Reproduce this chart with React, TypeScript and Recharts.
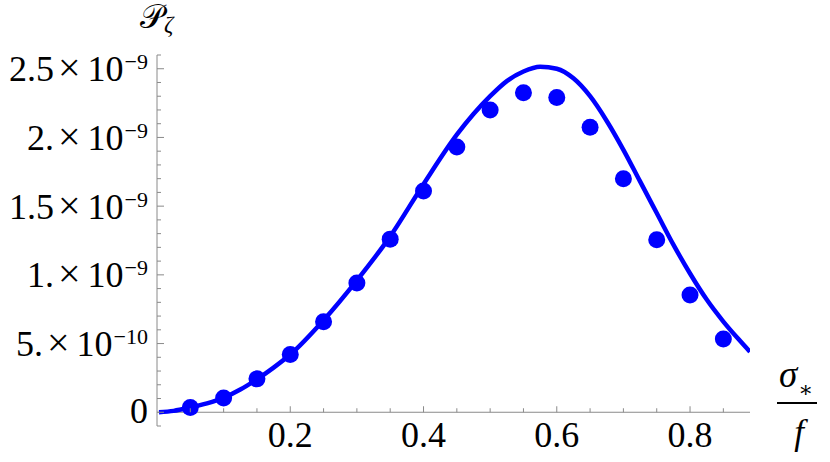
import { ComposedChart, Line, Scatter, XAxis, YAxis, ReferenceLine } from "recharts";

// values in units of 1e-9
const POINT_X = [0.05, 0.1, 0.15, 0.2, 0.25, 0.3, 0.35, 0.4, 0.45, 0.5, 0.55, 0.6, 0.65, 0.7, 0.75, 0.8, 0.85];
const POINT_Y = [0.034, 0.104, 0.243, 0.42, 0.659, 0.94, 1.26, 1.61, 1.93, 2.2, 2.326, 2.29, 2.075, 1.7, 1.255, 0.854, 0.533];

const CURVE_X = [
  0.003, 0.025, 0.05, 0.075, 0.1, 0.125, 0.15, 0.175, 0.2, 0.25, 0.3, 0.35, 0.4, 0.45, 0.475, 0.5,
  0.525, 0.55, 0.575, 0.6, 0.625, 0.65, 0.675, 0.7, 0.725, 0.75, 0.775, 0.8, 0.825, 0.85, 0.875, 0.89,
];
const CURVE_Y = [
  0, 0.01, 0.035, 0.065, 0.105, 0.165, 0.24, 0.325, 0.42, 0.67, 0.96, 1.28, 1.66, 2.02, 2.17, 2.3,
  2.41, 2.48, 2.515, 2.5, 2.43, 2.3, 2.12, 1.91, 1.68, 1.45, 1.22, 1.01, 0.82, 0.66, 0.52, 0.44,
];

const X_TICKS = [0.05, 0.1, 0.15, 0.2, 0.25, 0.3, 0.35, 0.4, 0.45, 0.5, 0.55, 0.6, 0.65, 0.7, 0.75, 0.8, 0.85];
const X_MAJOR = [0.2, 0.4, 0.6, 0.8];
const X_LABELS = ["0.2", "0.4", "0.6", "0.8"];

const Y_MAJOR = [0, 0.5, 1, 1.5, 2, 2.5];
const Y_MANTISSA = ["0", "5.", "1.", "1.5", "2.", "2.5"];
const Y_EXP = ["", "\u221210", "\u22129", "\u22129", "\u22129", "\u22129"];

const X_DOMAIN = [0, 0.89];
const Y_DOMAIN = [-0.1, 2.6];
const Y_MINOR = Array.from({ length: 28 }, (_, i) => Math.round(i - 1) / 10);

const W = 830;
const H = 462;
const TOP = 55;
const LEFT = 157;
const RIGHT = 80;
const XAXIS_H = 36;
const PLOT_H = H - TOP - XAXIS_H;
const ZERO_OFFSET = (PLOT_H * (0 - Y_DOMAIN[0])) / (Y_DOMAIN[1] - Y_DOMAIN[0]);

const BLUE = "#0000ff";
const AXIS = "#8a8a8a";
const FONT = "'Liberation Serif', 'DejaVu Serif', serif";

const curve = CURVE_X.map((x, i) => ({ x, y: CURVE_Y[i] }));
const points = POINT_X.map((x, i) => ({ x, y: POINT_Y[i] }));

const near = (a: number, b: number) => Math.abs(a - b) < 1e-6;

const YTick = (props: any) => {
  const { x, y, payload } = props;
  const idx = Y_MAJOR.findIndex((m) => near(m, payload.value));
  const major = idx >= 0;
  return (
    <g>
      <line x1={x} x2={x + (major ? 7 : 4)} y1={y} y2={y} stroke={AXIS} strokeWidth={1} />
      {major && (
        <text
          x={x - 9}
          y={y + (Y_EXP[idx] ? 12.5 : 11)}
          textAnchor="end"
          fontFamily={FONT}
          fontSize={36}
          fill="#000"
        >
          {Y_MANTISSA[idx]}
          {Y_EXP[idx] && (
            <>
              <tspan dx={4} fontSize={40}>×</tspan>
              <tspan dx={7} fontSize={36}>10</tspan>
              <tspan dx={1} dy={-12} fontSize={22}>
                {Y_EXP[idx]}
              </tspan>
            </>
          )}
        </text>
      )}
    </g>
  );
};

const XTick = (props: any) => {
  const { x, y, payload } = props;
  const zy = y - ZERO_OFFSET;
  const idx = X_MAJOR.findIndex((m) => near(m, payload.value));
  const major = idx >= 0;
  return (
    <g>
      <line x1={x} x2={x} y1={zy} y2={zy - (major ? 6 : 4)} stroke={AXIS} strokeWidth={1} />
      {major && (
        <text x={x} y={zy + 35} textAnchor="middle" fontFamily={FONT} fontSize={36} fill="#000">
          {X_LABELS[idx]}
        </text>
      )}
    </g>
  );
};

const Dot = (props: any) => <circle cx={props.cx} cy={props.cy} r={8.5} fill={BLUE} />;

export default function App() {
  return (
    <div style={{ position: "absolute", left: 0, top: 0, width: W, height: H, background: "#fff" }}>
      <ComposedChart width={W} height={H} margin={{ top: TOP, right: RIGHT, left: 0, bottom: 0 }}>
        <XAxis
          type="number"
          dataKey="x"
          domain={X_DOMAIN}
          ticks={X_TICKS}
          allowDataOverflow
          height={XAXIS_H}
          axisLine={false}
          tickLine={false}
          tickSize={0}
          tickMargin={0}
          interval={0}
          tick={<XTick />}
        />
        <YAxis
          type="number"
          domain={Y_DOMAIN}
          ticks={Y_MINOR}
          allowDataOverflow
          width={LEFT}
          axisLine={{ stroke: AXIS }}
          tickLine={false}
          tickSize={0}
          tickMargin={0}
          interval={0}
          tick={<YTick />}
        />
        <ReferenceLine y={0} stroke={AXIS} strokeWidth={1} />
        <Line
          data={curve}
          dataKey="y"
          type="monotone"
          stroke={BLUE}
          strokeWidth={4.5}
          dot={false}
          activeDot={false}
          isAnimationActive={false}
        />
        <Scatter data={points} dataKey="y" fill={BLUE} shape={<Dot />} isAnimationActive={false} />
      </ComposedChart>
      <svg width={W} height={H} style={{ position: "absolute", left: 0, top: 0, pointerEvents: "none" }}>
        <text x={140} y={28} fontFamily={FONT} fontSize={33} fill="#000">
          {"\u{1D4AB}"}
          <tspan dy={4} fontSize={23} fontStyle="italic">ζ</tspan>
        </text>
        <text x={779} y={387} fontFamily={FONT} fontSize={37} fontStyle="italic" fill="#000">
          σ
          <tspan dx={1} dy={10} fontSize={22} fontStyle="normal">∗</tspan>
        </text>
        <line x1={777} x2={817} y1={403} y2={403} stroke="#000" strokeWidth={2} />
        <text x={799} y={444} textAnchor="middle" fontFamily={FONT} fontSize={35} fontStyle="italic" fill="#000">
          f
        </text>
      </svg>
    </div>
  );
}
